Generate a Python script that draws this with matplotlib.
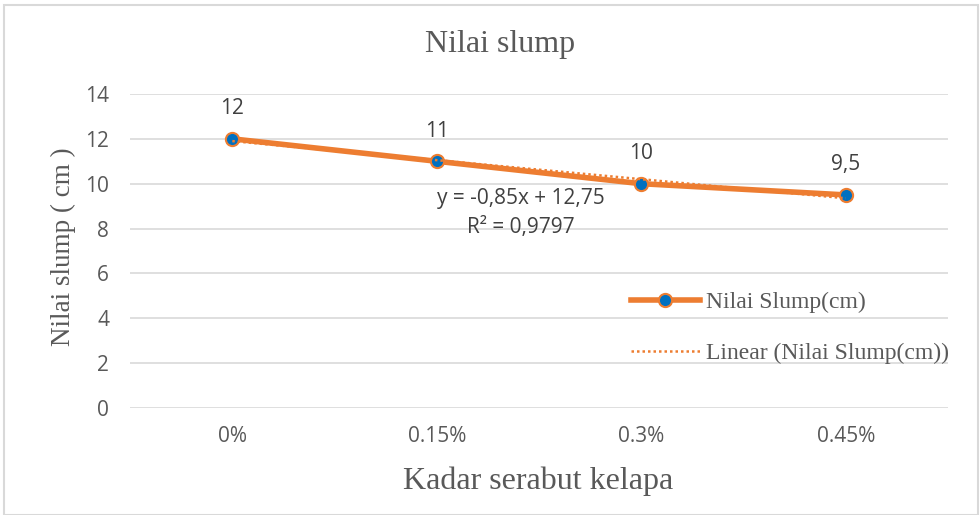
import numpy as np
import matplotlib
matplotlib.use("Agg")
import matplotlib.pyplot as plt
from matplotlib.lines import Line2D
from matplotlib.patches import Rectangle

categories = ["0%", "0.15%", "0.3%", "0.45%"]
slump = [12, 11, 10, 9.5]
data_labels = ["12", "11", "10", "9,5"]

ORANGE = "#ED7D31"
BLUE = "#0070C0"
GRAY = "#595959"
GRID = "#D9D9D9"
SERIF = ["Liberation Serif", "DejaVu Serif"]
SANS = ["Open Sans", "DejaVu Sans"]

fig = plt.figure(figsize=(9.8, 5.15), dpi=100)
ax = fig.add_axes([0.1327, 0.2078, 0.8347, 0.6097])

x = np.arange(len(categories))
# Excel trendline uses 1-based category index
coef = np.polyfit(x + 1, slump, 1)
trend = np.polyval(coef, x + 1)
r2 = 1 - np.sum((np.array(slump) - trend) ** 2) / np.sum((np.array(slump) - np.mean(slump)) ** 2)

ax.plot(x, slump, color=ORANGE, lw=4, marker="o", ms=9.5,
        mfc=BLUE, mec=ORANGE, mew=1.5, zorder=3)
ax.plot(x, trend, color=ORANGE, lw=1.8, ls=(0, (1, 1.2)), zorder=4)

for xi, yi, lab in zip(x, slump, data_labels):
    ax.annotate(lab, xy=(xi, yi), xytext=(0, 14), textcoords="offset points",
                ha="center", va="bottom", fontsize=15, color="#404040", family=SANS)

eq = "y = -{:.2f}x + {:.2f}".format(abs(coef[0]), coef[1]).replace(".", ",")
ax.text(1.41, 8.7, eq + "\nR² = {:.4f}".format(r2).replace(".", ","),
        ha="center", va="center", fontsize=15, color="#404040",
        family=SANS, linespacing=1.5)

ax.set_xlim(-0.5, 3.5)
ax.set_ylim(0, 14)
ax.set_yticks(np.arange(0, 15, 2))
ax.set_xticks(x)
ax.set_xticklabels(categories)
ax.grid(axis="y", color=GRID, lw=1.2)
ax.set_axisbelow(True)
for s in ax.spines.values():
    s.set_visible(False)
ax.tick_params(length=0, labelsize=15, colors=GRAY)
for t in ax.get_xticklabels() + ax.get_yticklabels():
    t.set_family(SANS)
ax.tick_params(axis="y", pad=15)
ax.tick_params(axis="x", pad=13)

fig.text(0.51, 0.913, "Nilai slump", fontsize=23, color=GRAY, family=SERIF,
         ha="center", va="center")
ax.set_xlabel("Kadar serabut kelapa", fontsize=23, color=GRAY, family=SERIF, va="center")
ax.xaxis.set_label_coords(0.499, -0.232)
ax.set_ylabel("Nilai slump ( cm )", fontsize=19.5, color=GRAY, family=SERIF, va="center")
ax.yaxis.set_label_coords(-0.082, 0.513)

handles = [
    Line2D([0], [0], color=ORANGE, lw=4, marker="o", ms=9.5, mfc=BLUE, mec=ORANGE, mew=1.5),
    Line2D([0], [0], color=ORANGE, lw=1.8, ls=(0, (1, 1.2))),
]
ax.legend(handles, ["Nilai Slump(cm)", "Linear (Nilai Slump(cm))"],
          loc="center left", bbox_to_anchor=(0.586, 0.255), frameon=False,
          prop={"family": SERIF, "size": 17}, labelcolor=GRAY,
          handlelength=2.95, handletextpad=0.25, labelspacing=1.25)

fig.patches.append(Rectangle((0.004, 0.0), 0.994, 0.99, transform=fig.transFigure,
                             fill=False, ec=GRID, lw=1.5))

fig.savefig("out.png", dpi=100, facecolor="white")
